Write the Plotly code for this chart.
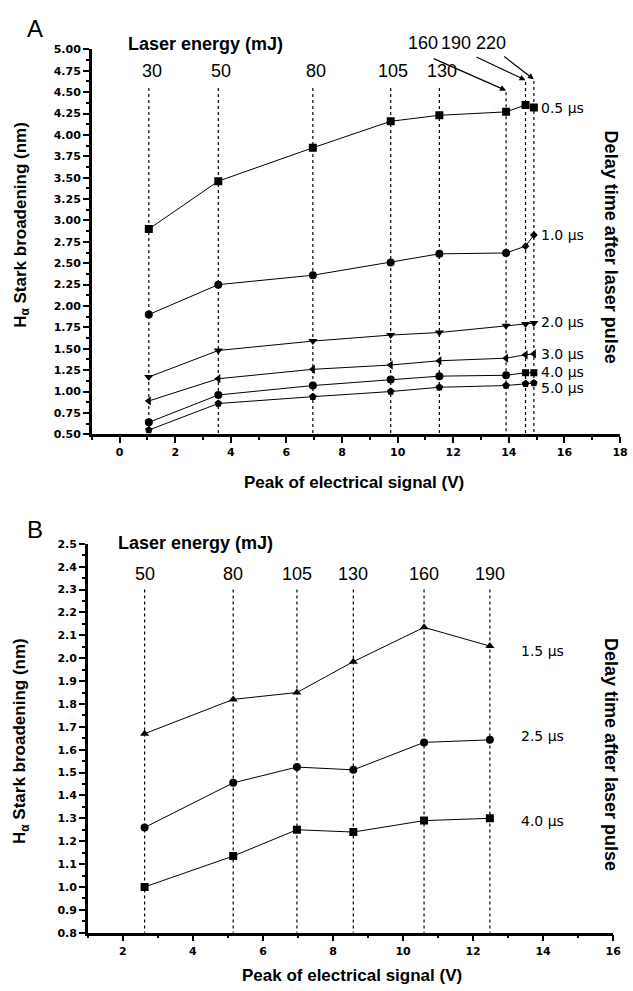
import plotly.graph_objects as go

# ---------------- Panel A data ----------------
a_energy = ["30", "50", "80", "105", "130", "160", "190", "220"]
a_signal = [1.05, 3.55, 6.95, 9.75, 11.5, 13.9, 14.6, 14.9]
a_series = {
    "0.5 µs": [2.90, 3.46, 3.85, 4.16, 4.23, 4.27, 4.35, 4.32],
    "1.0 µs": [1.90, 2.25, 2.36, 2.51, 2.61, 2.62, 2.70, 2.83],
    "2.0 µs": [1.17, 1.48, 1.59, 1.66, 1.69, 1.77, 1.79, 1.80],
    "3.0 µs": [0.89, 1.15, 1.26, 1.31, 1.36, 1.39, 1.43, 1.44],
    "4.0 µs": [0.64, 0.96, 1.07, 1.14, 1.18, 1.19, 1.22, 1.22],
    "5.0 µs": [0.55, 0.86, 0.94, 1.00, 1.05, 1.07, 1.09, 1.10],
}
a_symbols = [["square"] * 8,
             ["circle"] * 6 + ["diamond"] * 2,
             ["triangle-down"] * 8,
             ["triangle-left"] * 8,
             ["circle"] * 6 + ["square"] * 2,
             ["pentagon"] * 8]
a_sizes = [[8] * 8, [8] * 6 + [6] * 2, [8] * 8, [8] * 8, [8] * 6 + [7] * 2, [8] * 8]

# ---------------- Panel B data ----------------
b_energy = ["50", "80", "105", "130", "160", "190"]
b_signal = [2.62, 5.15, 6.97, 8.58, 10.6, 12.48]
b_series = {
    "1.5 µs": [1.67, 1.82, 1.85, 1.985, 2.135, 2.053],
    "2.5 µs": [1.26, 1.455, 1.524, 1.512, 1.632, 1.643],
    "4.0 µs": [1.00, 1.135, 1.25, 1.24, 1.29, 1.30],
}
b_symbols = ["triangle-up", "circle", "square"]

W, H = 633, 991
def fx(p): return p / W
def fy(p): return 1 - p / H

# pixel geometry of the two plot areas
A_L, A_R, A_T, A_B = 93, 628, 44, 434
B_L, B_R, B_T, B_B = 89, 621, 545, 939
A_XR, A_YR = (-1, 18), (0.5, 5.0)
B_XR, B_YR = (1, 16), (0.8, 2.5)

def a_px(x, y):
    return (A_L + (x - A_XR[0]) / (A_XR[1] - A_XR[0]) * (A_R - A_L),
            A_B - (y - A_YR[0]) / (A_YR[1] - A_YR[0]) * (A_B - A_T))

fig = go.Figure()

def dotted_lines(xs, ytop, ybot, xa, ya):
    x, y = [], []
    for v in xs:
        x += [v, v, None]
        y += [ytop, ybot, None]
    fig.add_trace(go.Scatter(x=x, y=y, mode="lines", xaxis=xa, yaxis=ya,
                             line=dict(color="black", width=1.2, dash="dot"),
                             hoverinfo="skip", showlegend=False))

a_tops = [4.55, 4.55, 4.55, 4.55, 4.55, 4.50, 4.62, 4.63]
for xv, yt in zip(a_signal, a_tops):
    dotted_lines([xv], yt, 0.5, "x", "y")
dotted_lines(b_signal, 2.30, 0.8, "x2", "y2")

for (name, vals), sym, sz in zip(a_series.items(), a_symbols, a_sizes):
    fig.add_trace(go.Scatter(x=a_signal, y=vals, mode="lines+markers", xaxis="x", yaxis="y",
                             line=dict(color="black", width=1),
                             marker=dict(symbol=sym, size=sz, color="black", opacity=1,
                                         line=dict(width=0)),
                             name=name, showlegend=False))
for (name, vals), sym in zip(b_series.items(), b_symbols):
    fig.add_trace(go.Scatter(x=b_signal, y=vals, mode="lines+markers", xaxis="x2", yaxis="y2",
                             line=dict(color="black", width=1),
                             marker=dict(symbol=sym, size=8, color="black", opacity=1),
                             name=name, showlegend=False))

tickfont = dict(family="DejaVu Sans", size=11, color="black", weight="bold")
titlefont = dict(family="Liberation Sans, Arial", size=17, color="black", weight="bold")
delayfont = dict(family="Liberation Sans, Arial", size=18, color="black", weight="bold")
energyfont = dict(family="Liberation Sans Narrow, Liberation Sans", size=18, color="black")
seriesfont = dict(family="DejaVu Sans", size=14, color="black")

common = dict(showline=True, linecolor="black", linewidth=2.5, ticks="outside",
              ticklen=6, tickwidth=1.5, tickcolor="black", showgrid=False, zeroline=False,
              tickfont=tickfont, fixedrange=True, ticklabeloverflow="allow")

fig.update_layout(
    width=W, height=H, margin=dict(l=0, r=0, t=0, b=0),
    paper_bgcolor="white", plot_bgcolor="white", showlegend=False,
    xaxis=dict(domain=[fx(A_L), fx(A_R)], range=list(A_XR), dtick=2, tick0=0, anchor="y",
               minor=dict(dtick=1, ticklen=3, tickcolor="black", ticks="outside"), **common),
    yaxis=dict(domain=[fy(A_B), fy(A_T)], range=list(A_YR), dtick=0.25, tick0=0.5,
               tickformat=".2f", anchor="x",
               minor=dict(dtick=0.125, ticklen=3, tickcolor="black", ticks="outside"), **common),
    xaxis2=dict(domain=[fx(B_L), fx(B_R)], range=list(B_XR), dtick=2, tick0=0, anchor="y2",
                minor=dict(dtick=1, ticklen=3, tickcolor="black", ticks="outside"), **common),
    yaxis2=dict(domain=[fy(B_B), fy(B_T)], range=list(B_YR), dtick=0.1, tick0=0.8,
                tickformat=".1f", anchor="x2",
                minor=dict(dtick=0.05, ticklen=3, tickcolor="black", ticks="outside"), **common),
)

ann = []
def ptext(text, px, py, font, angle=0, xanchor="center"):
    ann.append(dict(text=text, x=fx(px), y=fy(py), xref="paper", yref="paper",
                    xanchor=xanchor, yanchor="middle", showarrow=False,
                    textangle=angle, font=font))

# Panel letters
ptext("A", 35, 23, dict(family="Liberation Sans, Arial", size=24, color="black"))
ptext("B", 35, 530, dict(family="Liberation Sans, Arial", size=24, color="black"))
# Axis titles
ptext("Peak of electrical signal (V)", 359, 483, titlefont)
ptext("Peak of electrical signal (V)", 356, 982, titlefont)
ptext("H<sub>α</sub> Stark broadening (nm)", 22, 222, titlefont, angle=-90)
ptext("H<sub>α</sub> Stark broadening (nm)", 22, 745, titlefont, angle=-90)
ptext("Delay time after laser pulse", 619, 244, delayfont, angle=90)
ptext("Delay time after laser pulse", 619, 758, delayfont, angle=90)
# Laser energy headers
ptext("Laser energy (mJ)", 208, 38, delayfont)
ptext("Laser energy (mJ)", 198, 544, delayfont)

# Energy labels A (first five inside plot range)
for lab, xv in zip(a_energy[:5], a_signal[:5]):
    ann.append(dict(text=lab, x=xv + 0.1, y=4.75, xref="x", yref="y", showarrow=False,
                    xanchor="center", yanchor="middle", font=energyfont))
# Energy labels A above the axis range, with arrows
a_lab_pos = [(10.9, 5.07), (12.1, 5.08), (13.35, 5.08)]
a_arrow_tail = [(11.24, 4.90), (12.78, 4.92), (13.78, 4.93)]
for lab, (lx, ly) in zip(a_energy[5:], a_lab_pos):
    px, py = a_px(lx, ly)
    ptext(lab, px, py, energyfont)
for xv, yt, (tx, ty) in zip(a_signal[5:], a_tops[5:], a_arrow_tail):
    ann.append(dict(text="", x=xv, y=yt + 0.02, ax=tx, ay=ty, xref="x", yref="y",
                    axref="x", ayref="y", showarrow=True, arrowhead=2, arrowsize=1,
                    arrowwidth=1.2, arrowcolor="black"))
# Energy labels B
for lab, xv in zip(b_energy, b_signal):
    ann.append(dict(text=lab, x=xv, y=2.37, xref="x2", yref="y2", showarrow=False,
                    xanchor="center", yanchor="middle", font=energyfont))
# Series labels A
a_lab_y = [4.32, 2.83, 1.81, 1.44, 1.23, 1.04]
for name, ly in zip(a_series.keys(), a_lab_y):
    ann.append(dict(text=name, x=15.1, y=ly, xref="x", yref="y", showarrow=False,
                    xanchor="left", yanchor="middle", font=seriesfont))
# Series labels B
b_lab_y = [2.03, 1.66, 1.29]
for name, ly in zip(b_series.keys(), b_lab_y):
    ann.append(dict(text=name, x=13.3, y=ly, xref="x2", yref="y2", showarrow=False,
                    xanchor="left", yanchor="middle", font=seriesfont))

fig.update_layout(annotations=ann)
fig.write_html("out.html", config={"displayModeBar": False},
               post_script="document.body.style.margin='0';document.body.style.overflow='hidden';")
